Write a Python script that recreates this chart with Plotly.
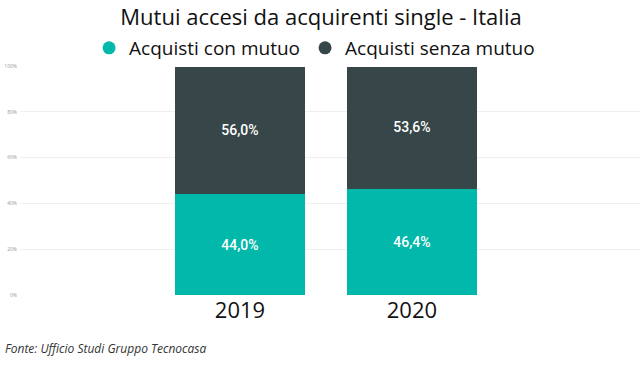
import plotly.graph_objects as go

years = ["2019", "2020"]
con_mutuo = [0.440, 0.464]
senza_mutuo = [0.560, 0.536]
series_names = ["Acquisti con mutuo", "Acquisti senza mutuo"]
colors = ["#01B8AA", "#374649"]
ytick_vals = [0, 0.2, 0.4, 0.6, 0.8, 1.0]
ytick_text = ["0%", "20%", "40%", "60%", "80%", "100%"]

fig = go.Figure()
for name, vals, col in zip(series_names, [con_mutuo, senza_mutuo], colors):
    fig.add_trace(go.Bar(
        x=years, y=vals, name=name, marker=dict(color=col, line=dict(width=0)),
        texttemplate="%{y:.1%}", textposition="inside", insidetextanchor="middle",
        textfont=dict(color="white", size=14, family="Roboto", weight=500),
        showlegend=False, width=0.756,
    ))
    fig.add_trace(go.Scatter(
        x=[None], y=[None], mode="markers", name=name,
        marker=dict(color=col, size=13, symbol="circle"), showlegend=True,
    ))

fig.update_layout(
    barmode="stack",
    width=642, height=366,
    separators=",.",
    paper_bgcolor="white", plot_bgcolor="white",
    margin=dict(l=20, r=2, t=66, b=71, autoexpand=False),
    title=dict(text="Mutui accesi da acquirenti single - Italia", x=0.5, xanchor="center",
               xref="container", yref="container", y=1 - 17 / 366, yanchor="middle",
               font=dict(family="Open Sans", size=22, color="#111111"), automargin=False),
    legend=dict(orientation="h", xref="container", yref="container",
                x=0.49, xanchor="center", y=1 - 48 / 366, yanchor="middle",
                font=dict(family="Open Sans", size=19, color="#111111"),
                itemwidth=30, tracegroupgap=0, traceorder="normal"),
    xaxis=dict(type="category", range=[-1.279, 2.326], showgrid=False, showline=False,
               automargin=False,
               ticks="", tickfont=dict(family="Open Sans", size=22, color="#111111")),
    yaxis=dict(range=[0, 1], tickvals=ytick_vals, ticktext=ytick_text, automargin=False,
               showgrid=True, gridcolor="#EFEFEF", gridwidth=1, zeroline=False,
               tickfont=dict(family="Open Sans", size=5, color="#999999"), ticklen=0, ticklabelstandoff=2),
    showlegend=True,
)
fig.add_annotation(text="<i>Fonte: Ufficio Studi Gruppo Tecnocasa</i>", xref="paper", yref="paper",
                   x=-17 / 620, xanchor="left", y=-53 / 229, yanchor="middle", showarrow=False,
                   font=dict(family="Open Sans", size=12, color="#333333"))
fig.write_html("out.html", config={"displayModeBar": False},
               post_script="document.body.style.margin='0';")
